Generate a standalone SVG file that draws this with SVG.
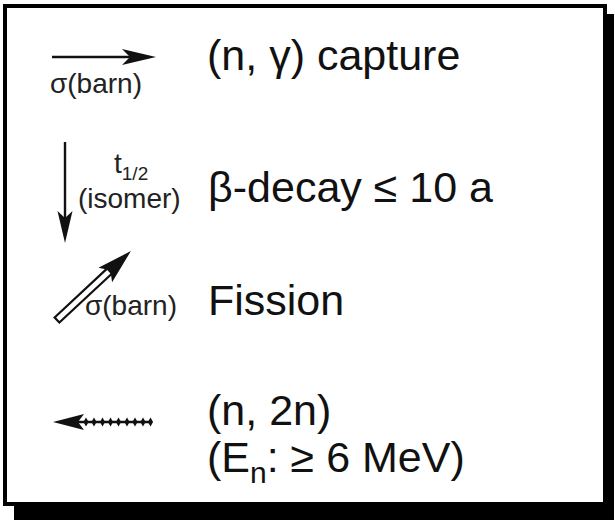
<svg xmlns="http://www.w3.org/2000/svg" width="615" height="520" viewBox="0 0 615 520">
<style>
  .lbl { font-family: "Liberation Sans", Arial, sans-serif; font-size: 43px; fill: #111; }
  .sm { font-family: "Liberation Sans", Arial, sans-serif; font-size: 28px; fill: #222; }
  .ln { stroke: #111; stroke-width: 2.4; fill: none; }
  .hd { fill: #111; stroke: none; }
</style>
<defs>
  <polygon id="bead" points="0,-4.5 2.6,0 0,4.5 -2.6,0" fill="#111"/>
</defs>
<rect x="0" y="0" width="615" height="520" fill="#fff"/>
<g id="frame">
  <rect x="14" y="14" width="600" height="506" fill="#000"/>
  <rect x="5" y="6" width="600" height="498" fill="#fff" stroke="#000" stroke-width="4"/>
</g>
<g id="connectors">
  <g id="arrow-capture">
    <line class="ln" x1="52" y1="57" x2="130" y2="57"/>
    <polygon class="hd" points="156,57 122,49 130,57 122,65"/>
  </g>
  <g id="arrow-decay">
    <line class="ln" x1="65" y1="142" x2="65" y2="220"/>
    <polygon class="hd" points="65,243 57.5,211 65,218 72.5,211"/>
  </g>
  <g id="arrow-fission" transform="translate(57,320) rotate(-43)">
    <rect x="0" y="-3.5" width="72" height="7" fill="#fff" stroke="#111" stroke-width="2.2"/>
    <polygon class="hd" points="101,0 66,-10 73,0 66,10"/>
  </g>
  <g id="arrow-n2n">
    <line class="ln" x1="76" y1="422" x2="152" y2="422"/>
    <polygon class="hd" points="53,422 84,414 78,422 84,430"/>
    <use href="#bead" x="86" y="422"/>
    <use href="#bead" x="94" y="422"/>
    <use href="#bead" x="102.5" y="422"/>
    <use href="#bead" x="110.5" y="422"/>
    <use href="#bead" x="118.5" y="422"/>
    <use href="#bead" x="127" y="422"/>
    <use href="#bead" x="135" y="422"/>
    <use href="#bead" x="143" y="422"/>
    <use href="#bead" x="150.5" y="422"/>
  </g>
</g>
<g id="capture">
  <text class="sm" x="50" y="93">σ(barn)</text>
  <text class="lbl" x="207" y="70">(n, γ) capture</text>
</g>
<g id="decay">
  <text class="sm" x="114" y="173">t<tspan font-size="19" dy="7">1/2</tspan></text>
  <text class="sm" x="78" y="208">(isomer)</text>
  <text class="lbl" x="208" y="202">β-decay ≤ 10 a</text>
</g>
<g id="fission">
  <text class="sm" x="85" y="315">σ(barn)</text>
  <text class="lbl" x="208" y="315">Fission</text>
</g>
<g id="n2n">
  <text class="lbl" x="207" y="425">(n, 2n)</text>
  <text class="lbl" x="207" y="472">(E<tspan font-size="30" dy="11">n</tspan><tspan dy="-11">: ≥ 6 MeV)</tspan></text>
</g>
</svg>
